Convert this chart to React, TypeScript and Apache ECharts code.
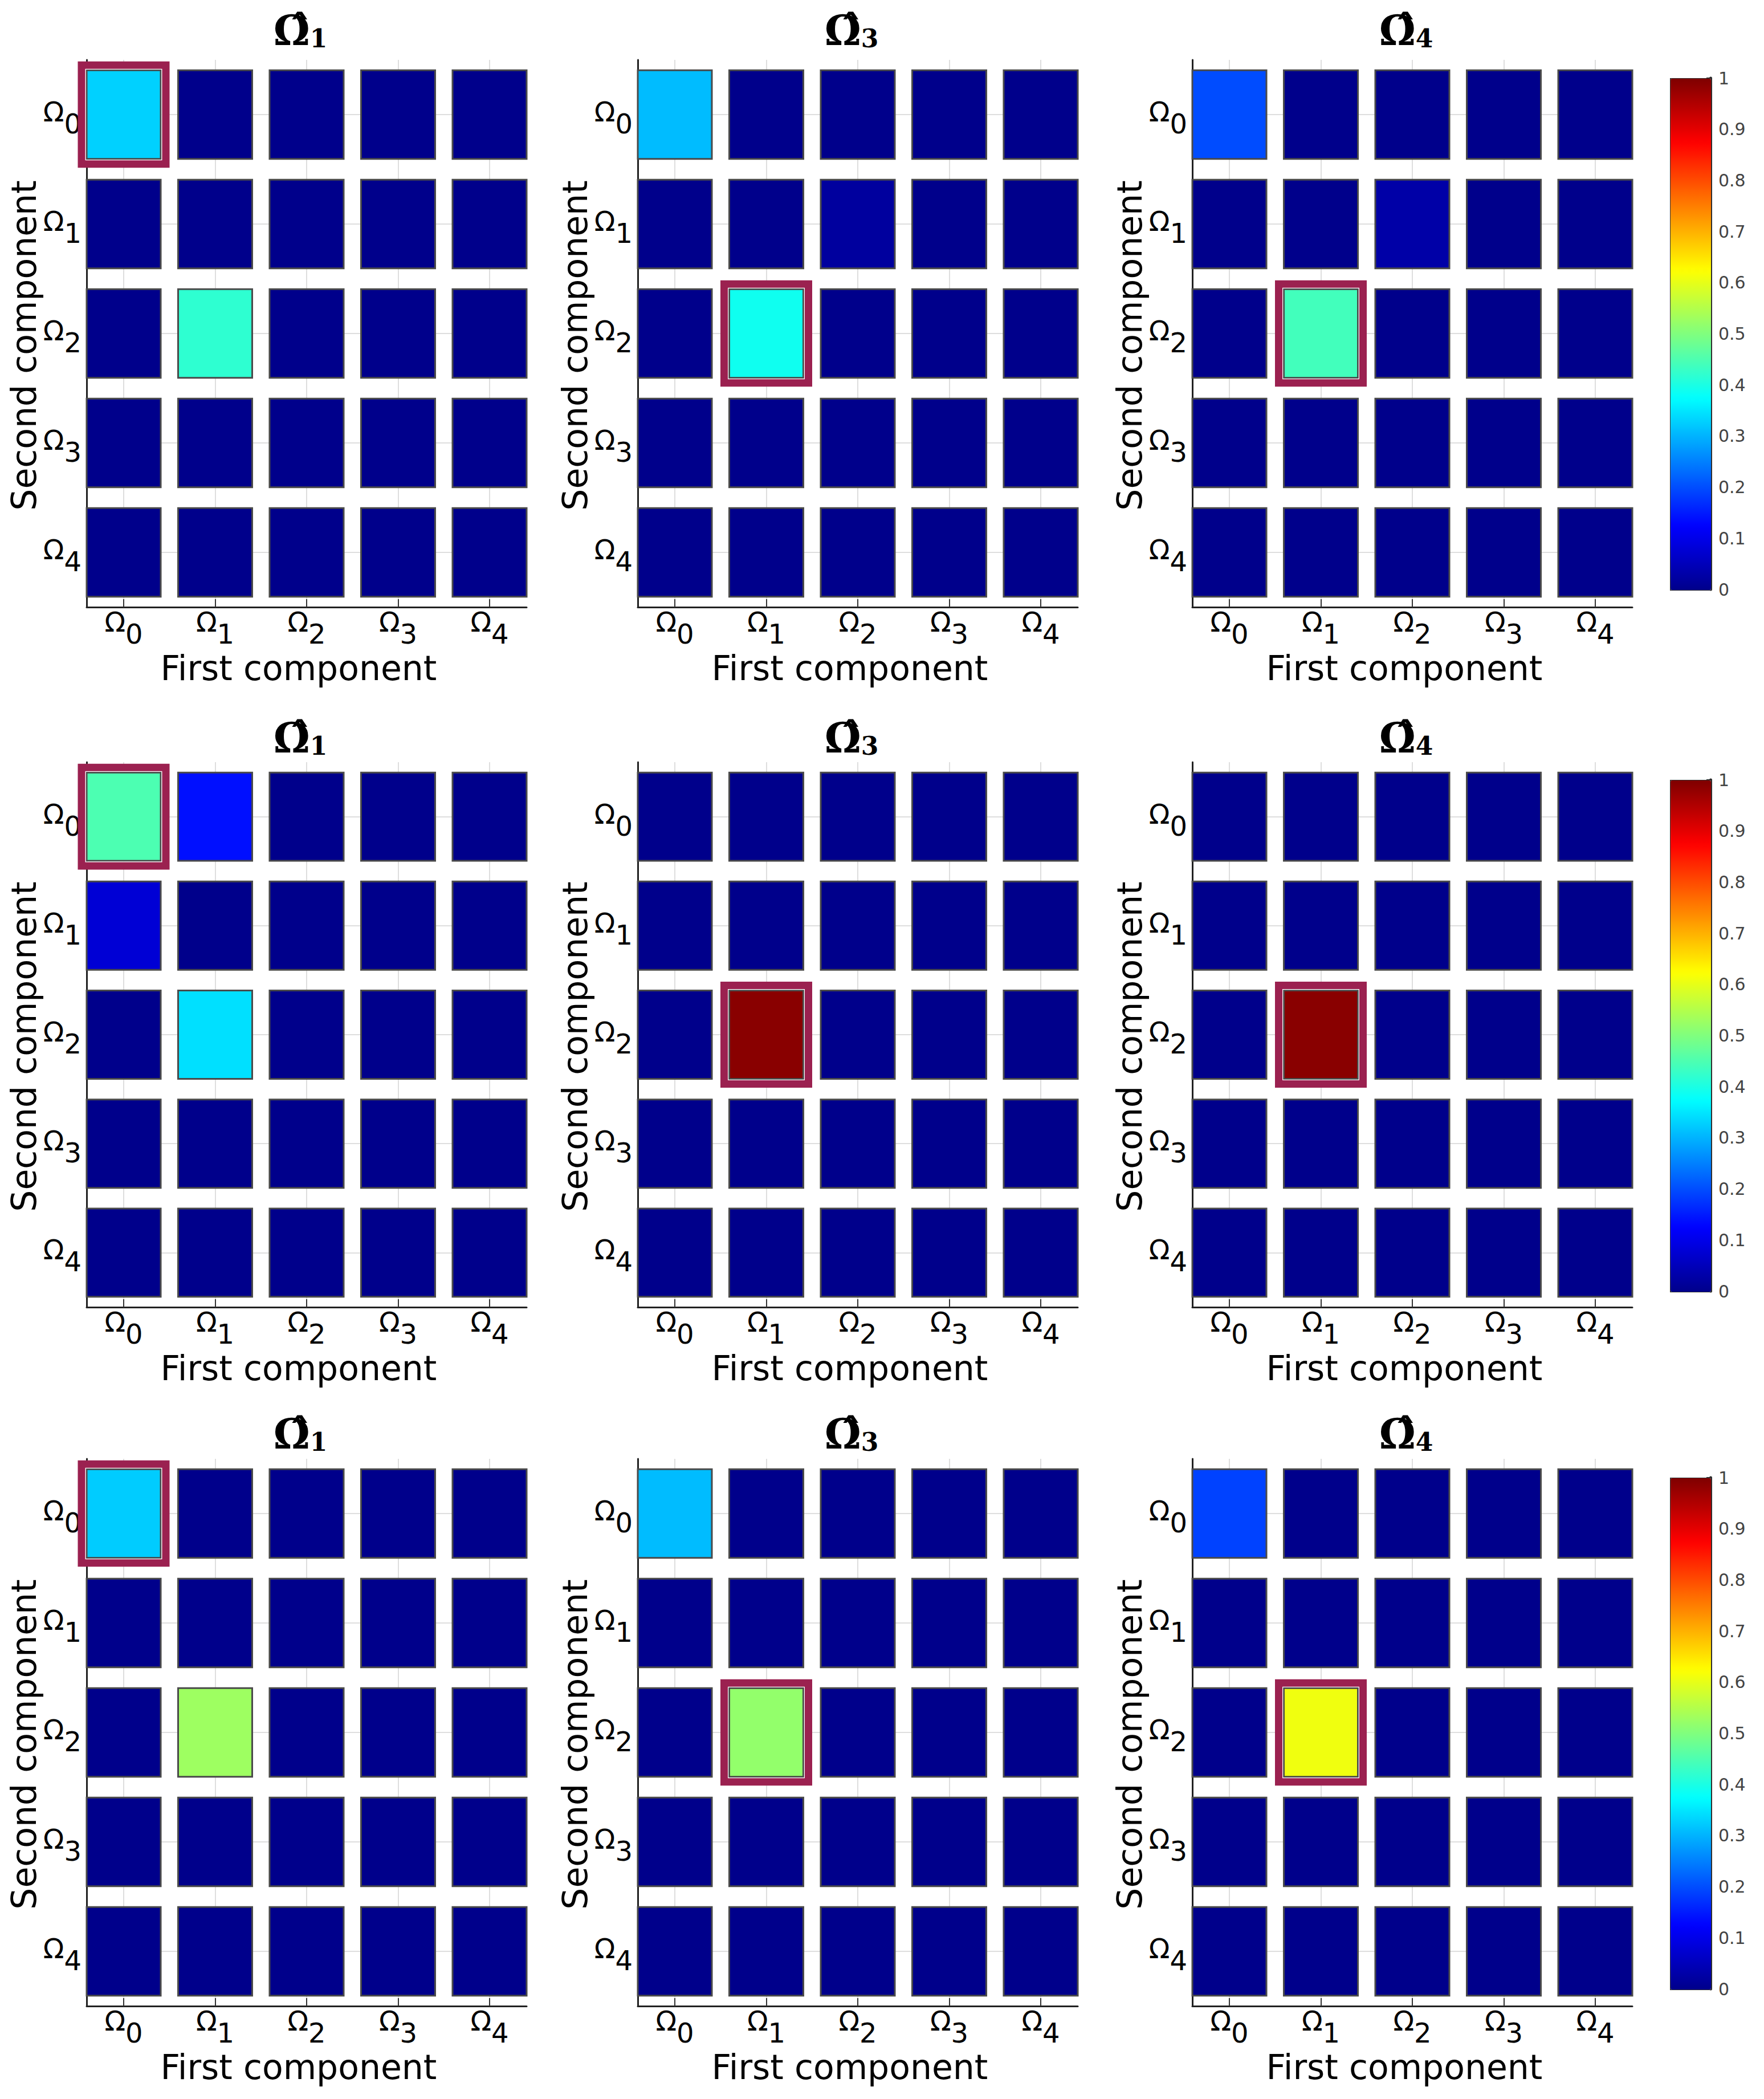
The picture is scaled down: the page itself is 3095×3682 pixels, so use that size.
import React, { useEffect, useRef } from 'react';
import * as echarts from 'echarts';

// ---------- data ----------
const componentIndices = ['0', '1', '2', '3', '4'];
const panelSubscripts = ['1', '3', '4'];
const firstAxisName = 'First component';
const secondAxisName = 'Second component';

// matrices: [second component (row)][first component (col)]
const rowA_omega1 = [
  [0.33, 0, 0, 0, 0],
  [0, 0, 0, 0, 0],
  [0, 0.42, 0, 0, 0],
  [0, 0, 0, 0, 0],
  [0, 0, 0, 0, 0],
];
const rowA_omega3 = [
  [0.31, 0, 0, 0, 0],
  [0, 0, 0.02, 0, 0],
  [0, 0.39, 0, 0, 0],
  [0, 0, 0, 0, 0],
  [0, 0, 0, 0, 0],
];
const rowA_omega4 = [
  [0.2, 0, 0, 0, 0],
  [0, 0, 0.03, 0, 0],
  [0, 0.44, 0, 0, 0],
  [0, 0, 0, 0, 0],
  [0, 0, 0, 0, 0],
];
const rowB_omega1 = [
  [0.45, 0.14, 0, 0, 0],
  [0.08, 0, 0, 0, 0],
  [0, 0.345, 0, 0, 0],
  [0, 0, 0, 0, 0],
  [0, 0, 0, 0, 0],
];
const rowB_omega3 = [
  [0, 0, 0, 0, 0],
  [0, 0, 0, 0, 0],
  [0, 0.99, 0, 0, 0],
  [0, 0, 0, 0, 0],
  [0, 0, 0, 0, 0],
];
const rowB_omega4 = [
  [0, 0, 0, 0, 0],
  [0, 0, 0, 0, 0],
  [0, 0.99, 0, 0, 0],
  [0, 0, 0, 0, 0],
  [0, 0, 0, 0, 0],
];
const rowC_omega1 = [
  [0.325, 0, 0, 0, 0],
  [0, 0, 0, 0, 0],
  [0, 0.53, 0, 0, 0],
  [0, 0, 0, 0, 0],
  [0, 0, 0, 0, 0],
];
const rowC_omega3 = [
  [0.31, 0, 0, 0, 0],
  [0, 0, 0, 0, 0],
  [0, 0.52, 0, 0, 0],
  [0, 0, 0, 0, 0],
  [0, 0, 0, 0, 0],
];
const rowC_omega4 = [
  [0.19, 0, 0, 0, 0],
  [0, 0, 0, 0, 0],
  [0, 0.61, 0, 0, 0],
  [0, 0, 0, 0, 0],
  [0, 0, 0, 0, 0],
];

// highlighted cell of each panel: [first component, second component]
const rowA_highlights = [[0, 0], [1, 2], [1, 2]];
const rowB_highlights = [[0, 0], [1, 2], [1, 2]];
const rowC_highlights = [[0, 0], [1, 2], [1, 2]];

const panelMatrices = [
  [rowA_omega1, rowA_omega3, rowA_omega4],
  [rowB_omega1, rowB_omega3, rowB_omega4],
  [rowC_omega1, rowC_omega3, rowC_omega4],
];
const panelHighlights = [rowA_highlights, rowB_highlights, rowC_highlights];

const jetColors = ['#00008B', '#0000FF', '#007FFF', '#00FFFF', '#7FFF7F', '#FFFF00', '#FF7F00', '#FF0000', '#7F0000'];

// ---------- layout / style ----------
const W = 3095;
const H = 3682;
const colLefts = [152, 1119, 2092];
const gridWidth = 772;
const rowTops = [105, 1337, 2559];
const rowHeights = [960, 956, 960];
const titleTops = [9, 1250, 2471];
const cbLeft = 2930;
const cbWidth = 71;
const cbTops = [137, 1368, 2592];
const cbHeight = 897;
const cellFrac = 0.81;
const SANS = "'DejaVu Sans', 'Noto Sans', sans-serif";
const SERIF = "'DejaVu Serif', 'Liberation Serif', serif";
const MAROON = '#9B2150';

const tickRich = {
  o: { fontFamily: SANS, fontSize: 48, color: '#000', verticalAlign: 'top', height: 35, lineHeight: 35 },
  s: { fontFamily: SANS, fontSize: 48, color: '#000', verticalAlign: 'bottom', height: 35, lineHeight: 56 },
};

const tickFormatter = (v: number) => `{o|Ω}{s|${componentIndices[Math.round(v)]}}`;
const tickValues = componentIndices.map((_, i) => i);

const cellRender = (params: any, api: any) => {
  const c = api.coord([api.value(0), api.value(1)]);
  const s = api.size([1, 1]);
  const w = Math.abs(s[0]) * cellFrac;
  const h = Math.abs(s[1]) * cellFrac;
  return {
    type: 'rect',
    shape: { x: c[0] - w / 2, y: c[1] - h / 2, width: w, height: h },
    style: { fill: api.visual('color'), stroke: '#4a4a4a', lineWidth: 3 },
  };
};

const frameRender = (params: any, api: any) => {
  const c = api.coord([api.value(0), api.value(1)]);
  const s = api.size([1, 1]);
  const w = Math.abs(s[0]) * cellFrac;
  const h = Math.abs(s[1]) * cellFrac;
  const o1 = 2.5;
  const o2 = 9;
  return {
    type: 'group',
    children: [
      {
        type: 'rect',
        shape: { x: c[0] - w / 2 - o1, y: c[1] - h / 2 - o1, width: w + 2 * o1, height: h + 2 * o1 },
        style: { fill: 'none', stroke: '#ffffff', lineWidth: 2.5 },
      },
      {
        type: 'rect',
        shape: { x: c[0] - w / 2 - o2, y: c[1] - h / 2 - o2, width: w + 2 * o2, height: h + 2 * o2 },
        style: { fill: 'none', stroke: MAROON, lineWidth: 13 },
      },
    ],
  };
};

function buildOption() {
  const grid: any[] = [];
  const xAxis: any[] = [];
  const yAxis: any[] = [];
  const series: any[] = [];
  const title: any[] = [];
  const visualMap: any[] = [];

  panelMatrices.forEach((rowPanels, r) => {
    const rowSeries: number[] = [];
    rowPanels.forEach((matrix, c) => {
      const gi = grid.length;
      grid.push({ left: colLefts[c], top: rowTops[r], width: gridWidth, height: rowHeights[r] });
      xAxis.push({
        type: 'value',
        gridIndex: gi,
        min: -0.405,
        max: 4.405,
        axisLine: { show: true, onZero: false, lineStyle: { color: '#222', width: 3 } },
        axisTick: { show: true, inside: true, length: 14, customValues: tickValues, lineStyle: { color: '#333', width: 2 } },
        axisLabel: { show: true, customValues: tickValues, formatter: tickFormatter, margin: 8, rich: tickRich },
        splitLine: { show: true, lineStyle: { color: '#dedede', width: 2 } },
        name: firstAxisName,
        nameLocation: 'middle',
        nameGap: 79,
        nameTextStyle: { fontFamily: SANS, fontSize: 60, lineHeight: 56, color: '#000', padding: [0, 28, 0, 0] },
      });
      yAxis.push({
        type: 'value',
        gridIndex: gi,
        inverse: true,
        min: -0.5,
        max: 4.5,
        axisLine: { show: true, onZero: false, lineStyle: { color: '#222', width: 3 } },
        axisTick: { show: false, customValues: tickValues },
        axisLabel: { show: true, customValues: tickValues, formatter: tickFormatter, margin: 9, rich: tickRich, padding: [11, 0, 0, 0] },
        splitLine: { show: true, lineStyle: { color: '#dedede', width: 2 } },
        name: secondAxisName,
        nameLocation: 'middle',
        nameGap: 80,
        nameTextStyle: { fontFamily: SANS, fontSize: 60, lineHeight: 54, color: '#000', padding: [0, 42, 0, 0] },
      });
      const data: number[][] = [];
      matrix.forEach((rowArr, yi) => rowArr.forEach((v, xi) => data.push([xi, yi, v])));
      rowSeries.push(series.length);
      series.push({
        type: 'custom',
        xAxisIndex: gi,
        yAxisIndex: gi,
        data,
        encode: { x: 0, y: 1 },
        renderItem: cellRender,
        z: 3,
        silent: true,
      });
      series.push({
        type: 'custom',
        xAxisIndex: gi,
        yAxisIndex: gi,
        data: [panelHighlights[r][c]],
        encode: { x: 0, y: 1 },
        renderItem: frameRender,
        z: 4,
        silent: true,
      });
      title.push({
        text: `{o|Ω\u0302}{s|${panelSubscripts[c]}}`,
        left: colLefts[c] + gridWidth / 2 - 11,
        top: titleTops[r],
        textAlign: 'center',
        padding: 0,
        textStyle: {
          rich: {
            o: { fontFamily: SERIF, fontWeight: 'bold', fontSize: 72, color: '#000', verticalAlign: 'bottom', lineHeight: 80 },
            s: { fontFamily: SERIF, fontWeight: 'bold', fontSize: 44, color: '#000', verticalAlign: 'bottom', lineHeight: 80 },
          },
        },
      });
    });

    // colorbar axis
    const cg = grid.length;
    grid.push({ left: cbLeft, top: cbTops[r], width: cbWidth, height: cbHeight });
    xAxis.push({ type: 'value', gridIndex: cg, show: false, min: 0, max: 1 });
    yAxis.push({
      type: 'value',
      gridIndex: cg,
      position: 'right',
      min: 0,
      max: 1,
      interval: 0.1,
      axisLine: { show: true, onZero: false, lineStyle: { color: '#2a2a2a', width: 5 } },
      axisTick: { show: true, inside: true, length: 7, lineStyle: { color: '#2a2a2a', width: 2 } },
      axisLabel: {
        show: true,
        margin: 14,
        fontFamily: SANS,
        fontSize: 30,
        color: '#444',
        formatter: (v: number) => String(Math.round(v * 10) / 10),
      },
      splitLine: { show: false },
    });
    visualMap.push({
      type: 'continuous',
      seriesIndex: rowSeries,
      dimension: 2,
      min: 0,
      max: 1,
      inRange: { color: jetColors },
      show: true,
      calculable: false,
      hoverLink: false,
      orient: 'vertical',
      left: cbLeft,
      top: cbTops[r],
      itemWidth: cbWidth,
      itemHeight: cbHeight,
      padding: 0,
      borderColor: '#333',
      borderWidth: 2,
      z: 1,
    });
  });

  return {
    animation: false,
    backgroundColor: '#ffffff',
    textStyle: { fontFamily: SANS },
    title,
    grid,
    xAxis,
    yAxis,
    visualMap,
    series,
  };
}

export default function App() {
  const ref = useRef<HTMLDivElement>(null);
  useEffect(() => {
    document.body.style.margin = '0';
    const chart = echarts.init(ref.current as HTMLDivElement, undefined, { renderer: 'svg', width: W, height: H });
    chart.setOption(buildOption() as any);
    return () => chart.dispose();
  }, []);
  return <div ref={ref} style={{ position: 'absolute', left: 0, top: 0, width: W, height: H, background: '#fff' }} />;
}
